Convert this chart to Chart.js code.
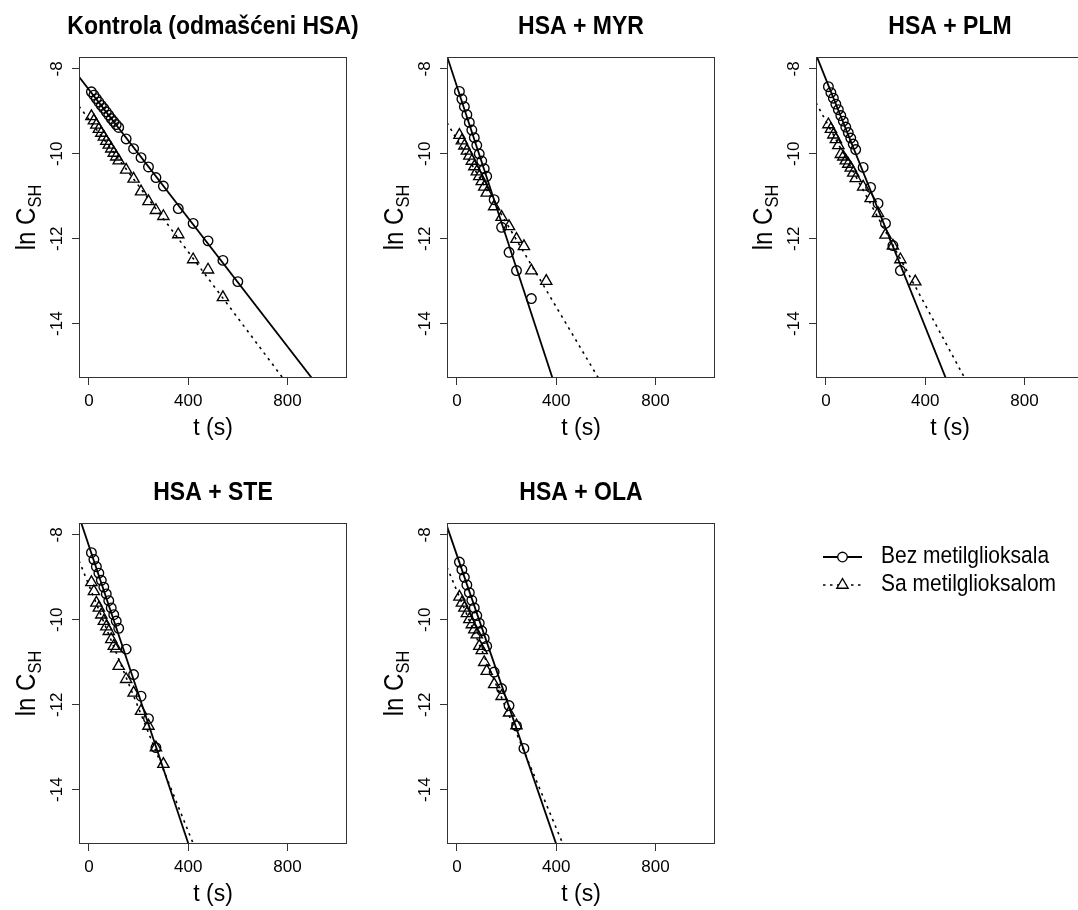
<!DOCTYPE html>
<html>
<head>
<meta charset="utf-8">
<script src="https://cdn.jsdelivr.net/npm/chart.js@4/dist/chart.umd.min.js"></script>
<style>
  html, body { margin: 0; padding: 0; background: #fff; width: 1078px; height: 910px; overflow: hidden; }
  .panel { position: absolute; }
  canvas { display: block; }
</style>
</head>
<body>
<div class="panel" style="left:0px;top:0px"><canvas id="p0" width="360" height="440"></canvas></div>
<div class="panel" style="left:368px;top:0px"><canvas id="p1" width="360" height="440"></canvas></div>
<div class="panel" style="left:737px;top:0px"><canvas id="p2" width="360" height="440"></canvas></div>
<div class="panel" style="left:0px;top:466px"><canvas id="p3" width="360" height="440"></canvas></div>
<div class="panel" style="left:368px;top:466px"><canvas id="p4" width="710" height="440"></canvas></div>
<script>
// ---- panel titles and legend ----
const panelTitles = ['Kontrola (odmašćeni HSA)', 'HSA + MYR', 'HSA + PLM', 'HSA + STE', 'HSA + OLA'];
const seriesLabels = ['Bez metilglioksala', 'Sa metilglioksalom'];

// ---- axes ----
const xTicks = [0, 400, 800];
const yTicks = [-14, -12, -10, -8];
const xRange = [-40, 1040];
const yRange = [-15.28, -7.72];

// ---- sampling times (s) ----
const tKontrolaBez = [10, 20, 30, 40, 50, 60, 70, 80, 90, 100, 110, 120, 150, 180, 210, 240, 270, 300, 360, 420, 480, 540, 600];
const tKontrolaSa  = [10, 20, 30, 40, 50, 60, 70, 80, 90, 100, 110, 120, 150, 180, 210, 240, 270, 300, 360, 420, 480, 540];
const tMyrBez = [10, 20, 30, 40, 50, 60, 70, 80, 90, 100, 110, 120, 150, 180, 210, 240, 300];
const tMyrSa  = [10, 20, 30, 40, 50, 60, 70, 80, 90, 100, 110, 120, 150, 180, 210, 240, 270, 300, 360];
const tPlmBez = [10, 20, 30, 40, 50, 60, 70, 80, 90, 100, 110, 120, 150, 180, 210, 240, 270, 300];
const tPlmSa  = [10, 20, 30, 40, 50, 60, 70, 80, 90, 100, 110, 120, 150, 180, 210, 240, 270, 300, 360];
const tSteBez = [10, 20, 30, 40, 50, 60, 70, 80, 90, 100, 110, 120, 150, 180, 210, 240, 270];
const tSteSa  = [10, 20, 30, 40, 50, 60, 70, 80, 90, 100, 110, 120, 150, 180, 210, 240, 270, 300];
const tOlaBez = [10, 20, 30, 40, 50, 60, 70, 80, 90, 100, 110, 120, 150, 180, 210, 240, 270];
const tOlaSa  = [10, 20, 30, 40, 50, 60, 70, 80, 90, 100, 110, 120, 150, 180, 210, 240];

// ---- ln C_SH values ----
const lnKontrolaBez = [-8.54, -8.62, -8.70, -8.78, -8.86, -8.93, -9.01, -9.09, -9.17, -9.24, -9.31, -9.38, -9.65, -9.88, -10.09, -10.31, -10.56, -10.76, -11.29, -11.64, -12.05, -12.51, -13.01];
const lnKontrolaSa  = [-9.12, -9.22, -9.32, -9.42, -9.51, -9.60, -9.70, -9.79, -9.88, -9.98, -10.07, -10.16, -10.38, -10.59, -10.89, -11.12, -11.33, -11.47, -11.90, -12.49, -12.73, -13.38];
const lnMyrBez = [-8.53, -8.71, -8.89, -9.08, -9.26, -9.44, -9.62, -9.80, -10.00, -10.17, -10.35, -10.53, -11.08, -11.73, -12.32, -12.75, -13.41];
const lnMyrSa  = [-9.56, -9.69, -9.81, -9.93, -10.05, -10.17, -10.30, -10.42, -10.53, -10.65, -10.78, -10.92, -11.24, -11.49, -11.71, -12.01, -12.18, -12.75, -13.00];
const lnPlmBez = [-8.42, -8.56, -8.69, -8.83, -8.96, -9.10, -9.23, -9.37, -9.50, -9.63, -9.77, -9.90, -10.32, -10.79, -11.17, -11.64, -12.16, -12.75];
const lnPlmSa  = [-9.31, -9.42, -9.55, -9.66, -9.80, -10.01, -10.07, -10.16, -10.24, -10.33, -10.45, -10.58, -10.78, -11.05, -11.40, -11.91, -12.17, -12.49, -13.01];
const lnSteBez = [-8.42, -8.58, -8.75, -8.90, -9.07, -9.23, -9.39, -9.55, -9.72, -9.88, -10.03, -10.20, -10.69, -11.29, -11.80, -12.33, -13.01];
const lnSteSa  = [-9.12, -9.33, -9.60, -9.72, -9.88, -10.03, -10.16, -10.27, -10.46, -10.62, -10.68, -11.09, -11.40, -11.72, -12.15, -12.50, -13.01, -13.40];
const lnOlaBez = [-8.64, -8.82, -9.00, -9.18, -9.36, -9.54, -9.72, -9.90, -10.08, -10.26, -10.44, -10.62, -11.23, -11.62, -12.02, -12.50, -13.03];
const lnOlaSa  = [-9.46, -9.60, -9.72, -9.85, -9.99, -10.11, -10.23, -10.35, -10.62, -10.72, -11.00, -11.21, -11.52, -11.80, -12.19, -12.49];

// ---- fitted regression lines: [intercept, slope] ----
const fitKontrolaBez = [-8.49, -0.00756];
const fitKontrolaSa  = [-9.191, -0.007793];
const fitMyrBez = [-8.415, -0.01783];
const fitMyrSa  = [-9.662, -0.009856];
const fitPlmBez = [-8.245, -0.01457];
const fitPlmSa  = [-9.229, -0.010824];
const fitSteBez = [-8.26, -0.0175];
const fitSteSa  = [-9.185, -0.01448];
const fitOlaBez = [-8.48, -0.0170];
const fitOlaSa  = [-9.32, -0.013957];

// ---- styling ----
const FONT = '"Liberation Sans", Arial, Helvetica, sans-serif';
const BOX = { left: 79, top: 57, width: 268, height: 321 };
const TICK_LEN = 7;
const CIRCLE_R = 4.8;
const TRIANGLE_R = 6.5;
const MARK_W = 1.35;
const DOT_DASH = [2.5, 4.5];

function pairs(ts, ys) { return ts.map((t, i) => ({ x: t, y: ys[i] })); }
function fitSegment(fit) {
  return xRange.map(x => ({ x: x, y: fit[0] + fit[1] * x }));
}

// text drawn with a slight vertical stretch (taller glyphs than plain Arial)
function tallText(ctx, text, x, y, k) {
  ctx.save();
  ctx.translate(x, y);
  ctx.scale(1, k);
  ctx.fillText(text, 0, 0);
  ctx.restore();
}

// R-style frame, tick labels, axis titles, panel title and optional legend
const rFrame = {
  id: 'rFrame',
  afterDraw(chart, args, opts) {
    const ctx = chart.ctx, a = chart.chartArea;
    const xs = chart.scales.x, ys = chart.scales.y;
    const cx = (a.left + a.right) / 2, cy = (a.top + a.bottom) / 2;
    ctx.save();
    ctx.strokeStyle = '#333';
    ctx.lineWidth = 1;
    ctx.strokeRect(a.left + 0.5, a.top + 0.5, a.right - a.left - 1, a.bottom - a.top - 1);

    ctx.fillStyle = '#000';
    ctx.font = '17px ' + FONT;
    ctx.textAlign = 'center';
    ctx.textBaseline = 'middle';
    xs.ticks.forEach(t => ctx.fillText(String(t.value), xs.getPixelForValue(t.value), a.bottom + 23.5));
    ys.ticks.forEach(t => {
      ctx.save();
      ctx.translate(a.left - 22, ys.getPixelForValue(t.value));
      ctx.rotate(-Math.PI / 2);
      ctx.fillText(String(t.value), 0, 0);
      ctx.restore();
    });

    ctx.textBaseline = 'alphabetic';
    ctx.font = '23px ' + FONT;
    ctx.fillText('t (s)', cx, a.bottom + 57);

    // y title: ln C with subscript SH
    ctx.save();
    ctx.translate(a.left - 44, cy);
    ctx.rotate(-Math.PI / 2);
    ctx.scale(1, 1.15);
    const main = '24px ' + FONT, sub = '16.5px ' + FONT;
    ctx.font = main; const w1 = ctx.measureText('ln C').width;
    ctx.font = sub; const w2 = ctx.measureText('SH').width;
    const x0 = -(w1 + w2) / 2;
    ctx.textAlign = 'left';
    ctx.font = main; ctx.fillText('ln C', x0, 0);
    ctx.font = sub; ctx.fillText('SH', x0 + w1, 5.5);
    ctx.restore();

    ctx.font = 'bold 23px ' + FONT;
    ctx.textAlign = 'center';
    tallText(ctx, opts.title, cx, a.top - 23, 1.09);

    if (opts.legend) {
      const lx = opts.legend.x, ly = opts.legend.y, gap = 28;
      const labels = chart.data.datasets.slice(0, 2).map(d => d.label);
      ctx.strokeStyle = '#000';
      // solid line + circle
      ctx.lineWidth = 1.8; ctx.setLineDash([]);
      ctx.beginPath(); ctx.moveTo(lx, ly); ctx.lineTo(lx + 39, ly); ctx.stroke();
      ctx.lineWidth = MARK_W; ctx.fillStyle = '#fff';
      ctx.beginPath(); ctx.arc(lx + 19.5, ly, CIRCLE_R, 0, Math.PI * 2); ctx.fill(); ctx.stroke();
      // dotted line + triangle
      ctx.lineWidth = 1.6; ctx.setLineDash(DOT_DASH);
      ctx.beginPath(); ctx.moveTo(lx, ly + gap); ctx.lineTo(lx + 39, ly + gap); ctx.stroke();
      ctx.setLineDash([]); ctx.lineWidth = MARK_W;
      const r = TRIANGLE_R, s = Math.sin(Math.PI / 3) * r, c = r / 2, tx = lx + 19.5, ty = ly + gap;
      ctx.beginPath(); ctx.moveTo(tx, ty - r); ctx.lineTo(tx + s, ty + c); ctx.lineTo(tx - s, ty + c); ctx.closePath(); ctx.fill(); ctx.stroke();
      ctx.fillStyle = '#000';
      ctx.font = '21px ' + FONT;
      ctx.textAlign = 'left'; ctx.textBaseline = 'middle';
      tallText(ctx, labels[0], lx + 58, ly, 1.1);
      tallText(ctx, labels[1], lx + 58, ly + gap, 1.1);
    }
    ctx.restore();
  }
};

function makePanel(id, title, tb, yb, ts, ysa, fitB, fitS, legend) {
  const el = document.getElementById(id);
  const W = el.width, H = el.height;
  return new Chart(el, {
    type: 'scatter',
    data: {
      datasets: [
        { label: seriesLabels[0], data: pairs(tb, yb), pointStyle: 'circle', pointRadius: CIRCLE_R,
          pointBorderWidth: MARK_W, pointBorderColor: '#000', pointBackgroundColor: 'rgba(0,0,0,0)', showLine: false },
        { label: seriesLabels[1], data: pairs(ts, ysa), pointStyle: 'triangle', pointRadius: TRIANGLE_R,
          pointBorderWidth: MARK_W, pointBorderColor: '#000', pointBackgroundColor: 'rgba(0,0,0,0)', showLine: false },
        { label: seriesLabels[0] + ' fit', data: fitSegment(fitB), showLine: true, pointRadius: 0,
          borderColor: '#000', borderWidth: 1.8, fill: false, clip: 0 },
        { label: seriesLabels[1] + ' fit', data: fitSegment(fitS), showLine: true, pointRadius: 0,
          borderColor: '#000', borderWidth: 1.6, borderDash: DOT_DASH, fill: false, clip: 0 }
      ]
    },
    options: {
      responsive: false,
      animation: false,
      events: [],
      layout: { padding: { left: BOX.left - TICK_LEN, top: BOX.top, right: W - BOX.left - BOX.width, bottom: H - BOX.top - BOX.height - TICK_LEN } },
      scales: {
        x: {
          type: 'linear', min: xRange[0], max: xRange[1],
          afterBuildTicks: s => { s.ticks = xTicks.map(v => ({ value: v })); },
          afterFit: s => { s.height = TICK_LEN; },
          grid: { drawOnChartArea: false, drawTicks: true, tickLength: TICK_LEN, color: '#333', lineWidth: 1 },
          border: { display: false },
          ticks: { display: false }
        },
        y: {
          type: 'linear', min: yRange[0], max: yRange[1],
          afterBuildTicks: s => { s.ticks = yTicks.map(v => ({ value: v })); },
          afterFit: s => { s.width = TICK_LEN; },
          grid: { drawOnChartArea: false, drawTicks: true, tickLength: TICK_LEN, color: '#333', lineWidth: 1 },
          border: { display: false },
          ticks: { display: false }
        }
      },
      plugins: {
        legend: { display: false },
        tooltip: { enabled: false },
        rFrame: { title: title, legend: legend }
      }
    },
    plugins: [rFrame]
  });
}

makePanel('p0', panelTitles[0], tKontrolaBez, lnKontrolaBez, tKontrolaSa, lnKontrolaSa, fitKontrolaBez, fitKontrolaSa, null);
makePanel('p1', panelTitles[1], tMyrBez, lnMyrBez, tMyrSa, lnMyrSa, fitMyrBez, fitMyrSa, null);
makePanel('p2', panelTitles[2], tPlmBez, lnPlmBez, tPlmSa, lnPlmSa, fitPlmBez, fitPlmSa, null);
makePanel('p3', panelTitles[3], tSteBez, lnSteBez, tSteSa, lnSteSa, fitSteBez, fitSteSa, null);
makePanel('p4', panelTitles[4], tOlaBez, lnOlaBez, tOlaSa, lnOlaSa, fitOlaBez, fitOlaSa, { x: 455, y: 91 });
</script>
</body>
</html>
